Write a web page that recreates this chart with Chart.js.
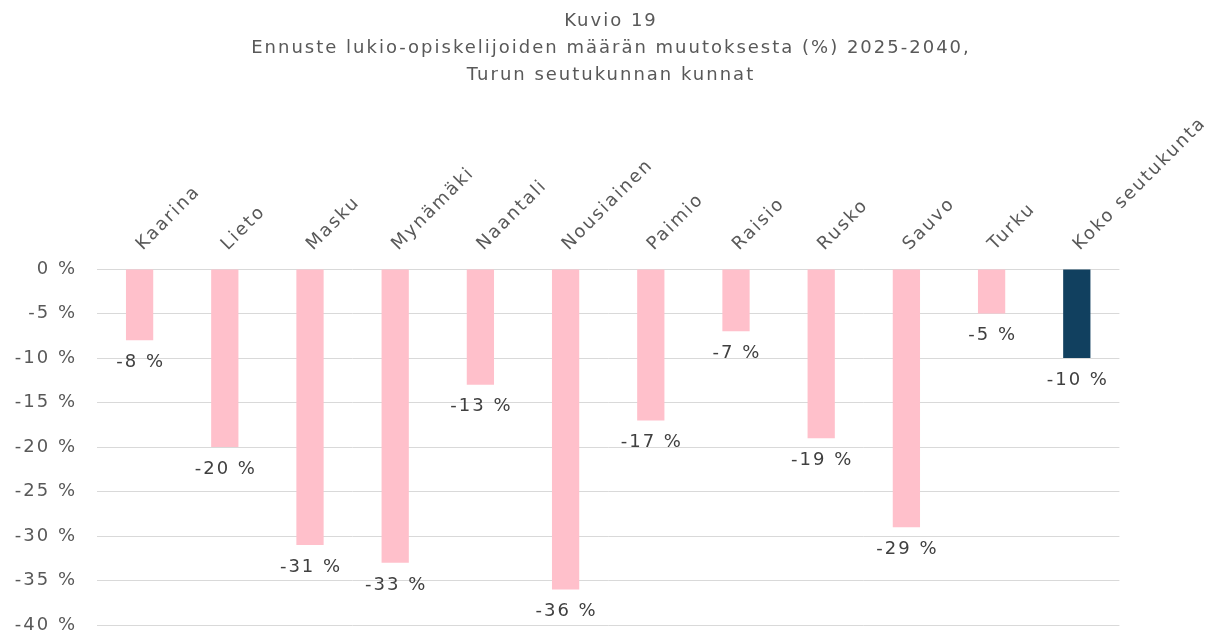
<!DOCTYPE html>
<html>
<head>
<meta charset="utf-8">
<script src="https://cdn.jsdelivr.net/npm/chart.js@4.4.1/dist/chart.umd.min.js"></script>
<style>
  html, body { margin: 0; padding: 0; background: #fff; overflow: hidden; }
  #wrap { width: 1222px; height: 656px; }
</style>
</head>
<body>
<div id="wrap"><canvas id="chart"></canvas></div>
<script>
const titleLines = ['Kuvio 19', 'Ennuste lukio-opiskelijoiden määrän muutoksesta (%) 2025-2040,', 'Turun seutukunnan kunnat'];
const kunnat = ['Kaarina', 'Lieto', 'Masku', 'Mynämäki', 'Naantali', 'Nousiainen', 'Paimio', 'Raisio', 'Rusko', 'Sauvo', 'Turku', 'Koko seutukunta'];
const muutos = [-8, -20, -31, -33, -13, -36, -17, -7, -19, -29, -5, -10];
const yTicks = [0, -5, -10, -15, -20, -25, -30, -35, -40];

const pink = '#ffc0cb';
const navy = '#11405f';
const textColor = '#595959';
const fontFamily = '"DejaVu Sans", sans-serif';
const spacing = '2px';

const barColors = kunnat.map((k, i) => i === kunnat.length - 1 ? navy : pink);

// leveämpi kirjainväli koko kuvaan
const letterSpacing = {
    id: 'letterSpacing',
    beforeUpdate(chart) { chart.ctx.letterSpacing = spacing; },
    beforeDraw(chart) { chart.ctx.letterSpacing = spacing; }
};

// arvot palkin alle
const valueLabels = {
    id: 'valueLabels',
    afterDatasetsDraw(chart) {
        const ctx = chart.ctx;
        const meta = chart.getDatasetMeta(0);
        ctx.save();
        ctx.font = '18px ' + fontFamily;
        ctx.fillStyle = '#404040';
        ctx.textAlign = 'center';
        ctx.textBaseline = 'middle';
        meta.data.forEach((bar, i) => {
            ctx.fillText(muutos[i] + ' %', bar.x + 1, bar.y + 22);
        });
        ctx.restore();
    }
};

const ctx = document.getElementById('chart').getContext('2d');
new Chart(ctx, {
    type: 'bar',
    data: {
        labels: kunnat,
        datasets: [{
            data: muutos,
            backgroundColor: barColors,
            borderWidth: 0,
            categoryPercentage: 1,
            barPercentage: 0.32
        }]
    },
    options: {
        responsive: true,
        maintainAspectRatio: false,
        animation: false,
        layout: { padding: 0 },
        scales: {
            x: {
                position: 'top',
                grid: { display: false, drawTicks: false },
                border: { display: false },
                ticks: {
                    color: textColor,
                    font: { size: 18, family: fontFamily },
                    minRotation: 45,
                    maxRotation: 45,
                    autoSkip: false,
                    labelOffset: 15,
                    padding: 14
                },
                afterFit(scale) { scale.height = 180; }
            },
            y: {
                min: -40,
                max: 0,
                grid: { color: '#d9d9d9', drawTicks: false, lineWidth: 1 },
                border: { display: false },
                afterBuildTicks(scale) { scale.ticks = yTicks.map(v => ({ value: v })); },
                ticks: {
                    color: textColor,
                    font: { size: 18, family: fontFamily },
                    padding: 20,
                    callback: v => v + ' %'
                },
                afterFit(scale) { scale.width = 97; }
            },
            // tyhjä tila oikealle, jotta otsikko pysyy keskellä
            oikea: {
                position: 'right',
                min: -40,
                max: 0,
                grid: { display: false },
                border: { display: false },
                ticks: { display: false },
                afterFit(scale) { scale.width = 102; }
            }
        },
        plugins: {
            legend: { display: false },
            tooltip: { enabled: false },
            title: {
                display: true,
                text: titleLines,
                color: textColor,
                font: { size: 18, family: fontFamily, weight: 'normal', lineHeight: 1.5 },
                padding: { top: 8, bottom: 0 }
            }
        }
    },
    plugins: [letterSpacing, valueLabels]
});
</script>
</body>
</html>
